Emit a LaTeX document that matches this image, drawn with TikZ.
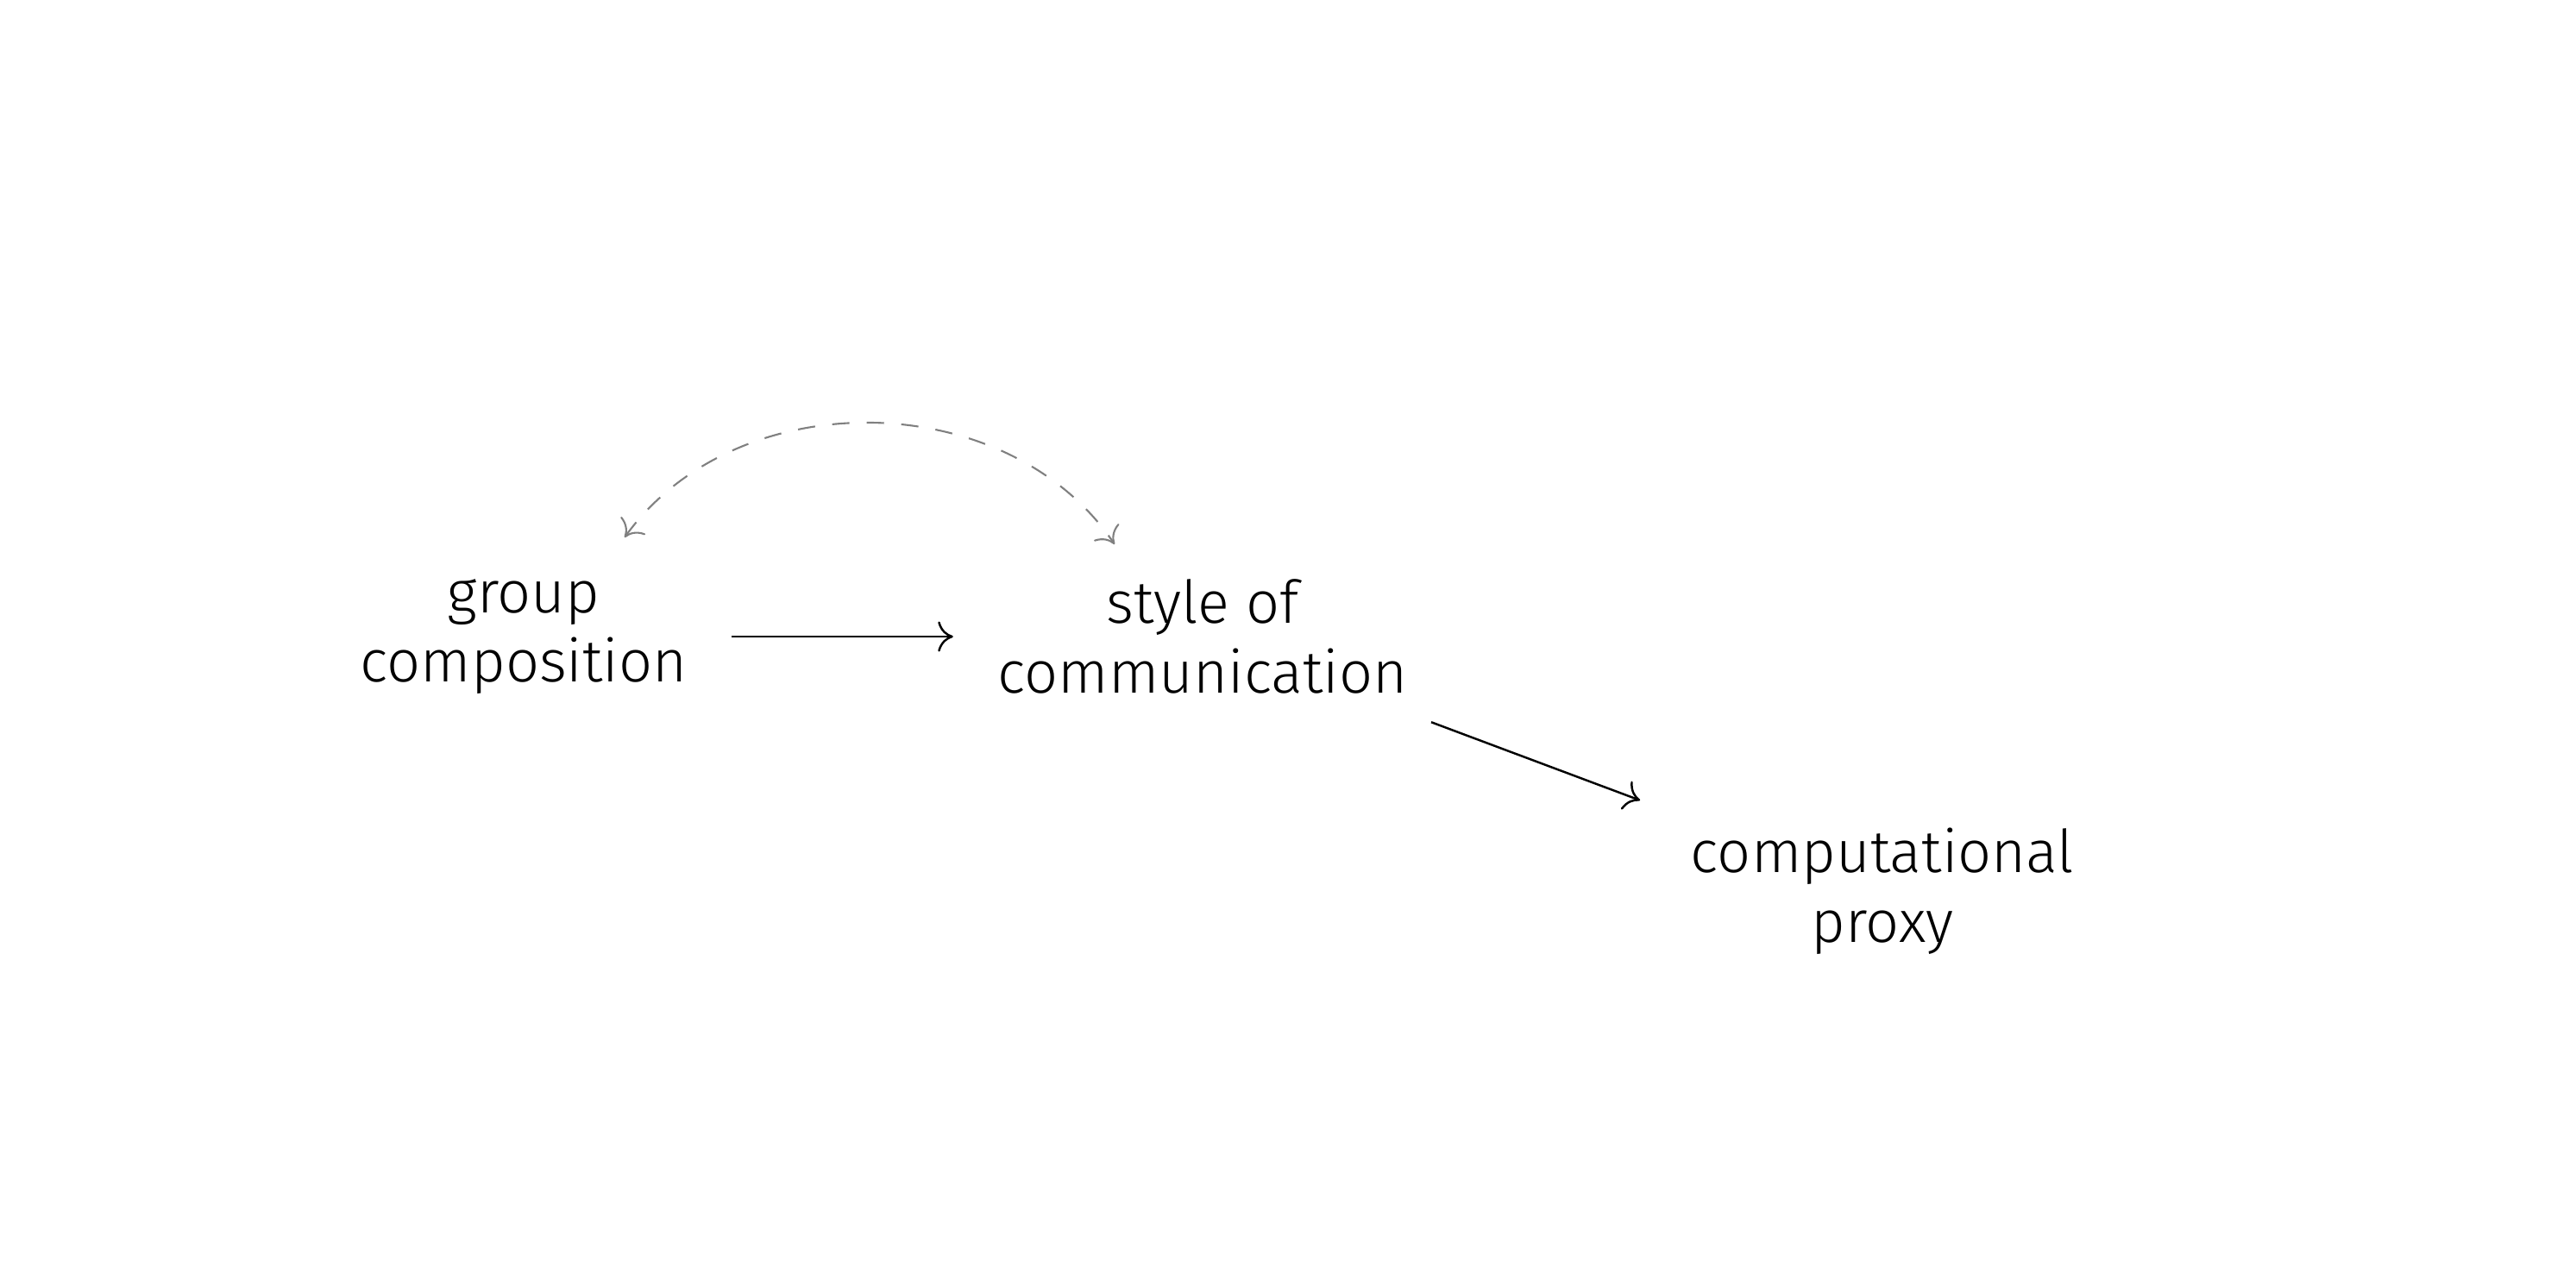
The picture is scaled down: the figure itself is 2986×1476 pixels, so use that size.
\documentclass[tikz,border=0pt]{standalone}
\usepackage{fontspec}
\setmainfont{Fira Sans Light}
\usetikzlibrary{arrows.meta}
\begin{document}
\begin{tikzpicture}[x=0.1mm,y=0.1mm,yscale=-1,xscale=1,
  var/.style={align=center,font=\fontsize{19.5}{23}\selectfont,inner sep=0pt,outer sep=5.2mm},
  link/.style={-{To[length=5pt,width=10pt]},line width=0.7pt},
  assoc/.style={{To[length=5pt,width=10pt]}-{To[length=5pt,width=10pt]},dash pattern=on 5.7pt off 5.7pt,gray,line width=0.6pt}]
\useasboundingbox (0,0) rectangle (2986,1476);

% Text Node
\node[var] (gc) at (607,738) {group\\composition};
% Text Node
\node[var] (sc) at (1394,738) {style of\\communication};
% Text Node
\node[var] (cp) at (2182,1033) {computational\\proxy};

% Arc ends
\coordinate (arcL) at (724,623);
\coordinate (arcR) at (1292,631);

%Straight Lines
\draw[link] (gc) -- (sc);
\draw[link,shorten <=28.3mm,shorten >=30mm] (sc.center) -- (cp.center);
%Curve Lines
\draw[assoc] (arcL) to[bend right=55] (arcR);

\end{tikzpicture}
\end{document}
